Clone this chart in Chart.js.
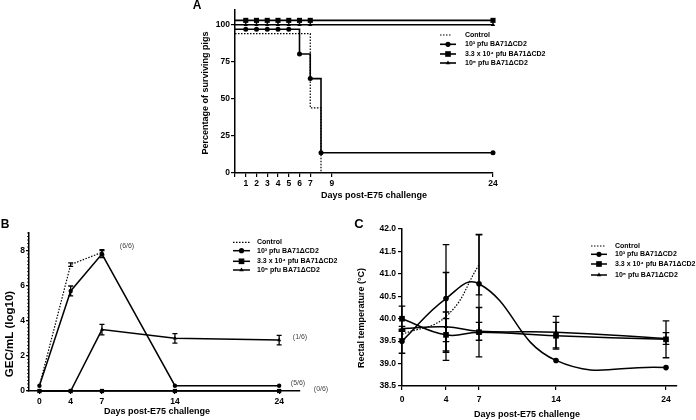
<!DOCTYPE html>
<html>
<head>
<meta charset="utf-8">
<script src="https://cdn.jsdelivr.net/npm/chart.js@4.4.1/dist/chart.umd.min.js"></script>
<style>
  html, body { margin: 0; padding: 0; background: #fff; }
  #wrap { position: relative; width: 696px; height: 420px; }
  canvas { position: absolute; left: 0; top: 0; }
</style>
</head>
<body>
<div id="wrap">
  <canvas id="chartA" width="696" height="420"></canvas>
  <canvas id="chartB" width="696" height="420"></canvas>
  <canvas id="chartC" width="696" height="420"></canvas>
</div>
<script>
const seriesNames = ['Control', '10³ pfu BA71ΔCD2', '3.3 x 10⁴ pfu BA71ΔCD2', '10⁵ pfu BA71ΔCD2'];

// Panel A - survival (curves are offset a little in the original so they don't overlap)
const survDaysControl = [0, 7, 8];
const survControl = [94, 44, 0];
const survDaysLow = [0, 1, 2, 3, 4, 5, 6, 7, 8, 24];
const survLow = [97, 97, 97, 97, 97, 97, 80.3, 63.7, 13.7, 13.7];
const survDaysHigh = [0, 1, 2, 3, 4, 5, 6, 7, 24];
const survMid = [103, 103, 103, 103, 103, 103, 103, 103, 103];
const survHigh = [100, 100, 100, 100, 100, 100, 100, 100, 100];
const survXTicks = [0, 1, 2, 3, 4, 5, 6, 7, 9, 24];
const survYTicks = [0, 25, 50, 75, 100];

// Panel B - viremia
const gecDayLabels = ['0', '4', '7', '14', '24'];
const gecDayPos = [1, 4, 7, 14, 24]; // day 0 sits one unit in from the axis in the original
const gecControl = [0.3, 7.2, 7.9];
const gecControlErr = [0, 0.1, 0.15];
const gecLow = [0.3, 5.7, 7.8, 0.3, 0.3];
const gecLowErr = [0, 0.28, 0.2, 0, 0];
const gecMid = [0, 0, 0, 0, 0];
const gecHigh = [0, 0, 3.5, 3.0, 2.9];
const gecHighErr = [0, 0, 0.3, 0.27, 0.27];
const gecYTicks = [0, 2, 4, 6, 8];
const gecRatios = ['(6/6)', '(1/6)', '(5/6)', '(0/6)'];

// Panel C - rectal temperature
const tempDays = [0, 4, 7, 14, 24];
const tempControl = [39.65, 40.05, 41.2];
const tempControlErr = [0.1, 0.98, 0.67];
const tempLow = [39.5, 40.45, 40.78, 39.07, 38.91];
const tempLowErr = [0.27, 1.2, 1.1, 0, 0];
const tempMid = [40.0, 39.64, 39.7, 39.62, 39.54];
const tempMidErr = [0.28, 0.36, 0.55, 0.3, 0.41];
const tempHigh = [39.78, 39.82, 39.72, 39.7, 39.56];
const tempHighErr = [0.05, 0.33, 0.2, 0.35, 0.13];
const tempYTicks = [38.5, 39, 39.5, 40, 40.5, 41, 41.5, 42];

const fontFamily = '"Liberation Sans", Arial, Helvetica, sans-serif';
Chart.defaults.font.family = fontFamily;
Chart.defaults.font.weight = 'bold';
Chart.defaults.font.size = 8.5;
Chart.defaults.color = '#000';
Chart.defaults.animation = false;
Chart.defaults.plugins.legend.display = false;
Chart.defaults.plugins.tooltip.enabled = false;

function xy(xs, ys) {
    return ys.map((y, i) => ({ x: xs[i], y: y }));
}

function axis(o) {
    return {
        type: 'linear',
        min: o.min,
        max: o.max,
        afterBuildTicks: s => { s.ticks = o.ticks.map(v => ({ value: v })); },
        afterFit: s => {
            if (o.width) s.width = o.width;
            if (o.height) s.height = o.height;
        },
        ticks: { padding: o.pad, autoSkip: false, maxRotation: 0, callback: o.label || (v => v) },
        grid: { display: true, drawOnChartArea: false, drawTicks: true, tickLength: o.tickLength || 4, color: '#000', lineWidth: 1.2 },
        border: { display: true, color: '#000', width: 1.5 }
    };
}

function drawMarker(ctx, style, x, y, r) {
    ctx.beginPath();
    if (style === 'rect') {
        const s = r * Math.SQRT1_2;
        ctx.rect(x - s, y - s, 2 * s, 2 * s);
    } else if (style === 'triangle') {
        for (let k = 0; k < 3; k++) {
            const a = k * 2 * Math.PI / 3;
            const px = x + Math.sin(a) * r, py = y - Math.cos(a) * r;
            k === 0 ? ctx.moveTo(px, py) : ctx.lineTo(px, py);
        }
        ctx.closePath();
    } else {
        ctx.arc(x, y, r, 0, Math.PI * 2);
    }
    ctx.fill();
}

// error bars from the dataset's errorBars array
const errorBars = {
    id: 'errorBars',
    afterDatasetsDraw(chart, args, o) {
        const ctx = chart.ctx;
        const xs = chart.scales.x, ys = chart.scales.y;
        ctx.save();
        ctx.strokeStyle = '#000';
        ctx.lineWidth = 1.3;
        chart.data.datasets.forEach(ds => {
            if (!ds.errorBars) return;
            ds.data.forEach((p, i) => {
                const e = ds.errorBars[i];
                if (!e) return;
                const x = xs.getPixelForValue(p.x);
                const y1 = ys.getPixelForValue(p.y + e);
                const y2 = ys.getPixelForValue(p.y - e);
                ctx.beginPath();
                ctx.moveTo(x, y1); ctx.lineTo(x, y2);
                ctx.moveTo(x - o.cap, y1); ctx.lineTo(x + o.cap, y1);
                ctx.moveTo(x - o.cap, y2); ctx.lineTo(x + o.cap, y2);
                ctx.stroke();
            });
        });
        ctx.restore();
    }
};

const figLegend = {
    id: 'figLegend',
    afterDraw(chart, args, o) {
        if (!o.rows) return;
        const ctx = chart.ctx;
        ctx.save();
        chart.data.datasets.forEach((ds, i) => {
            const y = o.rows[i];
            ctx.strokeStyle = '#000';
            ctx.fillStyle = '#000';
            ctx.lineWidth = ds.borderWidth;
            ctx.setLineDash(ds.borderDash || []);
            ctx.beginPath();
            ctx.moveTo(o.x1, y);
            ctx.lineTo(ds.borderDash ? o.x1 + o.dashLen : o.x2, y);
            ctx.stroke();
            ctx.setLineDash([]);
            if (ds.legendRadius) drawMarker(ctx, ds.pointStyle, (o.x1 + o.x2) / 2, y, ds.legendRadius);
            ctx.font = 'bold 7px ' + fontFamily;
            ctx.textBaseline = 'middle';
            ctx.textAlign = 'left';
            ctx.fillText(ds.label, o.textX, y);
        });
        ctx.restore();
    }
};

const figText = {
    id: 'figText',
    afterDraw(chart, args, o) {
        const ctx = chart.ctx;
        (o.items || []).forEach(t => {
            ctx.save();
            ctx.font = (t.weight || 'bold') + ' ' + (t.size || 9) + 'px ' + fontFamily;
            ctx.fillStyle = t.color || '#000';
            ctx.textAlign = 'center';
            ctx.textBaseline = 'middle';
            ctx.translate(t.x, t.y);
            if (t.rotate) ctx.rotate(-Math.PI / 2);
            ctx.fillText(t.text, 0, 0);
            ctx.restore();
        });
    }
};

// small extra ticks along the y axis of panel B
const minorTicks = {
    id: 'minorTicks',
    afterDraw(chart, args, o) {
        if (!o.step) return;
        const ctx = chart.ctx, ys = chart.scales.y, left = chart.chartArea.left;
        ctx.save();
        ctx.strokeStyle = '#000';
        ctx.lineWidth = 0.8;
        for (let v = ys.min; v <= ys.max + 1e-6; v += o.step) {
            const y = ys.getPixelForValue(v);
            ctx.beginPath(); ctx.moveTo(left - o.len, y); ctx.lineTo(left, y); ctx.stroke();
        }
        ctx.restore();
    }
};

const plugins = [errorBars, figLegend, figText, minorTicks];

// Panel A
new Chart(document.getElementById('chartA'), {
    type: 'line',
    data: {
        datasets: [
            { label: seriesNames[0], data: xy(survDaysControl, survControl), stepped: true,
              borderColor: '#000', borderWidth: 1.2, borderDash: [1.5, 1.5], pointRadius: 0, clip: false },
            { label: seriesNames[1], data: xy(survDaysLow, survLow), stepped: true,
              borderColor: '#000', borderWidth: 1.6, pointStyle: 'circle', legendRadius: 2.6,
              pointRadius: c => c.dataIndex === 0 ? 0 : 2.5, pointBackgroundColor: '#000', pointBorderWidth: 0, clip: false },
            { label: seriesNames[2], data: xy(survDaysHigh, survMid), stepped: true,
              borderColor: '#000', borderWidth: 1.6, pointStyle: 'rect', legendRadius: 4,
              pointRadius: c => c.dataIndex === 0 ? 0 : 3.6, pointBackgroundColor: '#000', pointBorderWidth: 0, clip: false },
            { label: seriesNames[3], data: xy(survDaysHigh, survHigh), stepped: true,
              borderColor: '#000', borderWidth: 1.6, pointStyle: 'triangle', legendRadius: 2.6,
              pointRadius: c => c.dataIndex === 0 ? 0 : 2.6, pointBackgroundColor: '#000', pointBorderWidth: 0, clip: false }
        ]
    },
    options: {
        responsive: false,
        layout: { padding: { left: 205, right: 203, top: 10, bottom: 217 } },
        scales: {
            x: axis({ min: 0, max: 24, ticks: survXTicks, height: 30, pad: 2, label: v => v === 0 ? '' : v }),
            y: axis({ min: 0, max: 110, ticks: survYTicks, width: 30, pad: 1 })
        },
        plugins: {
            figLegend: { rows: [35, 44.3, 54, 63], x1: 440, x2: 456, dashLen: 11, textX: 465 },
            figText: { items: [
                { text: 'A', x: 197, y: 6, size: 12 },
                { text: 'Percentage of surviving pigs', x: 206, y: 93, rotate: true },
                { text: 'Days post-E75 challenge', x: 374, y: 196 }
            ] }
        }
    },
    plugins: plugins
});

// Panel B
new Chart(document.getElementById('chartB'), {
    type: 'line',
    data: {
        datasets: [
            { label: seriesNames[0], data: xy(gecDayPos, gecControl), errorBars: gecControlErr,
              borderColor: '#000', borderWidth: 1.2, borderDash: [1.5, 1.5], pointRadius: 0, clip: false },
            { label: seriesNames[1], data: xy(gecDayPos, gecLow), errorBars: gecLowErr,
              borderColor: '#000', borderWidth: 1.5, pointStyle: 'circle', legendRadius: 2.6,
              pointRadius: 2.2, pointBackgroundColor: '#000', pointBorderWidth: 0, clip: false },
            { label: seriesNames[2], data: xy(gecDayPos, gecMid),
              borderColor: '#000', borderWidth: 1.5, pointStyle: 'rect', legendRadius: 4,
              pointRadius: 3, pointBackgroundColor: '#000', pointBorderWidth: 0, clip: false },
            { label: seriesNames[3], data: xy(gecDayPos, gecHigh), errorBars: gecHighErr,
              borderColor: '#000', borderWidth: 1.5, pointStyle: 'triangle', legendRadius: 2.6,
              pointRadius: 2.4, pointBackgroundColor: '#000', pointBorderWidth: 0, clip: false }
        ]
    },
    options: {
        responsive: false,
        layout: { padding: { left: 9, right: 396, top: 233, bottom: 4 } },
        scales: {
            x: axis({ min: 0, max: 26, ticks: gecDayPos, height: 25, pad: 3, tickLength: 3,
                      label: v => gecDayLabels[gecDayPos.indexOf(v)] }),
            y: axis({ min: 0, max: 9, ticks: gecYTicks, width: 20, pad: 1, tickLength: 3 })
        },
        plugins: {
            errorBars: { cap: 2.5 },
            minorTicks: { step: 0.2, len: 2 },
            figLegend: { rows: [242.3, 250.7, 261.3, 270], x1: 233, x2: 250, dashLen: 17, textX: 257 },
            figText: { items: [
                { text: 'B', x: 5, y: 225, size: 12 },
                { text: 'GEC/mL (log10)', x: 10, y: 334, rotate: true, size: 11.5 },
                { text: 'Days post-E75 challenge', x: 157, y: 412 },
                { text: gecRatios[0], x: 127, y: 246, size: 7, weight: 'normal', color: '#444' },
                { text: gecRatios[1], x: 300, y: 337, size: 7, weight: 'normal', color: '#444' },
                { text: gecRatios[2], x: 298, y: 383, size: 7, weight: 'normal', color: '#444' },
                { text: gecRatios[3], x: 321, y: 389, size: 7, weight: 'normal', color: '#444' }
            ] }
        }
    },
    plugins: plugins
});

// Panel C
new Chart(document.getElementById('chartC'), {
    type: 'line',
    data: {
        datasets: [
            { label: seriesNames[0], data: xy(tempDays, tempControl), errorBars: tempControlErr, tension: 0.45,
              borderColor: '#000', borderWidth: 1.2, borderDash: [1.5, 1.5], pointRadius: 0, clip: false },
            { label: seriesNames[1], data: xy(tempDays, tempLow), errorBars: tempLowErr, tension: 0.45,
              borderColor: '#000', borderWidth: 1.5, pointStyle: 'circle', legendRadius: 2.6,
              pointRadius: 2.8, pointBackgroundColor: '#000', pointBorderWidth: 0, clip: false },
            { label: seriesNames[2], data: xy(tempDays, tempMid), errorBars: tempMidErr, tension: 0.45,
              borderColor: '#000', borderWidth: 1.5, pointStyle: 'rect', legendRadius: 4,
              pointRadius: 4, pointBackgroundColor: '#000', pointBorderWidth: 0, clip: false },
            { label: seriesNames[3], data: xy(tempDays, tempHigh), errorBars: tempHighErr, tension: 0.45,
              borderColor: '#000', borderWidth: 1.5, pointStyle: 'triangle', legendRadius: 2.6,
              pointRadius: 2.6, pointBackgroundColor: '#000', pointBorderWidth: 0, clip: false }
        ]
    },
    options: {
        responsive: false,
        layout: { padding: { left: 372, right: 19, top: 229, bottom: 4 } },
        scales: {
            x: axis({ min: 0, max: 25, ticks: tempDays, height: 30, pad: 5 }),
            y: axis({ min: 38.5, max: 42, ticks: tempYTicks, width: 30, pad: 2, label: v => v.toFixed(1) })
        },
        plugins: {
            errorBars: { cap: 3.3 },
            figLegend: { rows: [246, 254.3, 264, 275], x1: 591, x2: 607, dashLen: 15, textX: 615 },
            figText: { items: [
                { text: 'C', x: 359, y: 224, size: 13 },
                { text: 'Rectal temperature (°C)', x: 362, y: 318, rotate: true },
                { text: 'Days post-E75 challenge', x: 527, y: 415 }
            ] }
        }
    },
    plugins: plugins
});
</script>
</body>
</html>
